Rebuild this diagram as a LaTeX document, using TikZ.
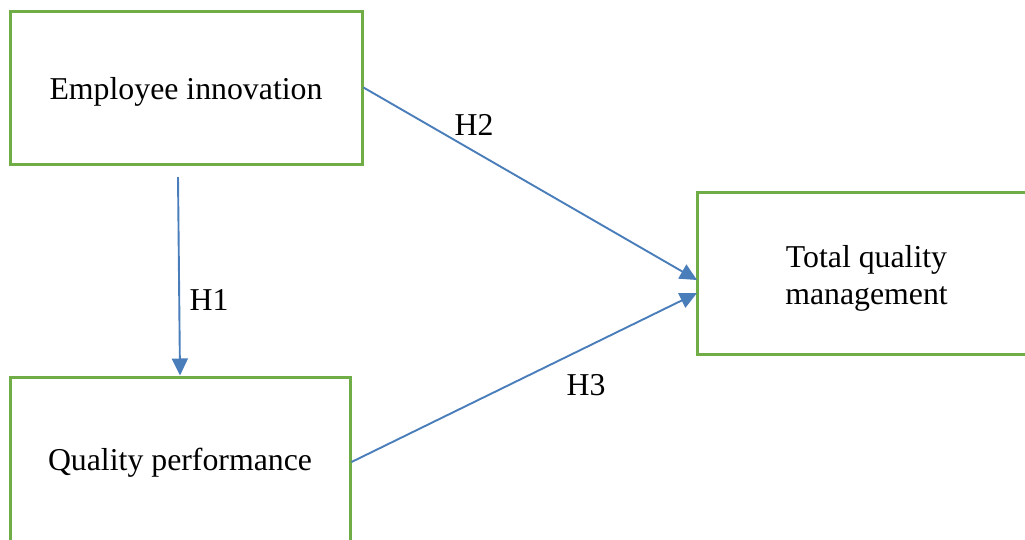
\documentclass[tikz,border=0pt]{standalone}
\usepackage{fontspec}
\setmainfont{Liberation Serif}
\usetikzlibrary{arrows.meta}
\definecolor{boxgreen}{HTML}{70AD47}
\definecolor{arrowblue}{HTML}{4A7EBB}
\tikzset{
  varbox/.style={draw=boxgreen, line width=3pt, rectangle, inner sep=0pt},
  boxtext/.style={align=center, font=\fontsize{31.8}{37}\selectfont, inner sep=0pt},
  link/.style={draw=arrowblue, line width=1.9pt, -{Triangle[length=17pt,width=16pt]}},
  hlabel/.style={font=\fontsize{31.8}{37}\selectfont, inner sep=0pt}
}
\begin{document}
\begin{tikzpicture}[x=1pt,y=-1pt]
\useasboundingbox (0,0) rectangle (1025,539);
\clip (0,0) rectangle (1025,539);
\node[varbox, minimum width=352pt, minimum height=153pt] (ei) at (186,87.5) {};
\node[varbox, minimum width=339pt, minimum height=162pt] (tqm) at (866.5,273) {};
\node[varbox, minimum width=340pt, minimum height=170pt] (qp) at (180,462) {};
\node[boxtext] (eit) at (186,92) {Employee innovation};
\node[boxtext] (tqmt) at (866.5,278) {Total quality\\management};
\node[boxtext] (qpt) at (180,463) {Quality performance};
\coordinate (h1s) at (178,177);
\coordinate (t2) at (697,280);
\coordinate (t3) at (697,293);
\draw[link] (h1s) -- (qp.north);
\draw[link] (ei.east) -- (t2);
\draw[link] (qp.east) -- (t3);
\node[hlabel] (l1) at (209,300) {H1};
\node[hlabel] (l2) at (474,125) {H2};
\node[hlabel] (l3) at (586,385) {H3};
\end{tikzpicture}
\end{document}
